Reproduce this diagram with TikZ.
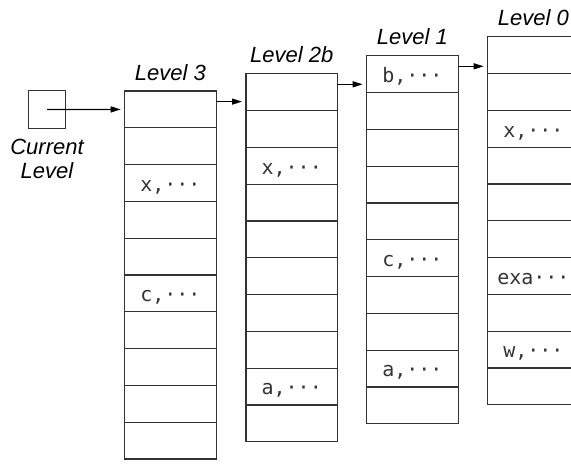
\documentclass[tikz,border=0pt]{standalone}
\usepackage{fontspec}
\setmainfont{Liberation Sans}
\newfontfamily\cellfont{DejaVu Sans Mono}
\usetikzlibrary{arrows.meta,positioning}
\tikzset{
  cell/.style={draw=black!80,line width=0.6pt,minimum width=45.7pt,minimum height=18.4pt,inner sep=0pt,outer sep=0pt},
  entry/.style={anchor=base,inner sep=0pt,text=black!80,font=\cellfont\fontsize{10}{10}\selectfont},
  lvl/.style={font=\itshape\fontsize{11}{12}\selectfont},
  link/.style={-{Triangle[length=5pt,width=3pt]},line width=0.6pt,shorten >=2pt}
}
\begin{document}
\begin{tikzpicture}[x=0.5pt,y=-0.5pt]
  \clip (0,0) rectangle (571,463);
  % the four levels, each ten slots high
  \foreach \n/\x/\y/\lbl in {L3/124.7/91/Level 3,L2b/246/73.7/Level 2b,L1/366.7/55.7/Level 1,L0/487.7/36.7/Level 0}{
    \foreach \r in {0,...,9}
      \node[cell] (\n-\r) at (\x+45.7,\y+18.4+\r*36.8) {};
    \node[lvl,anchor=base] (\n-title) at ([yshift=5.5pt]\n-0.north) {\lbl};
    \coordinate (\n-out) at ([yshift=-5.3pt]\n-0.north east);
  }
  % slot contents
  \foreach \c/\s [count=\i] in {L3-2/{x,···},L3-5/{c,···},L2b-2/{x,···},L2b-8/{a,···},L1-0/{b,···},L1-5/{c,···},L1-8/{a,···},L0-2/{x,···},L0-6/{exa···},L0-8/{w,···}}
    \node[entry] (e\i) at ([yshift=-4.2pt]\c.center) {\s};
  % current level pointer
  \node[cell,minimum width=18.7pt,minimum height=18.7pt] (cur) at (47,109.5) {};
  \node[lvl,anchor=north,align=center,inner sep=0pt] (cur-title) at ([yshift=-5.3pt]cur.south) {Current\\Level};
  \draw[link] (cur.center) -- (L3-0.west);
  \draw[link] (L3-out) -- (L3-out -| L2b-0.west);
  \draw[link] (L2b-out) -- (L2b-out -| L1-0.west);
  \draw[link] (L1-out) -- (L1-out -| L0-0.west);
\end{tikzpicture}
\end{document}
